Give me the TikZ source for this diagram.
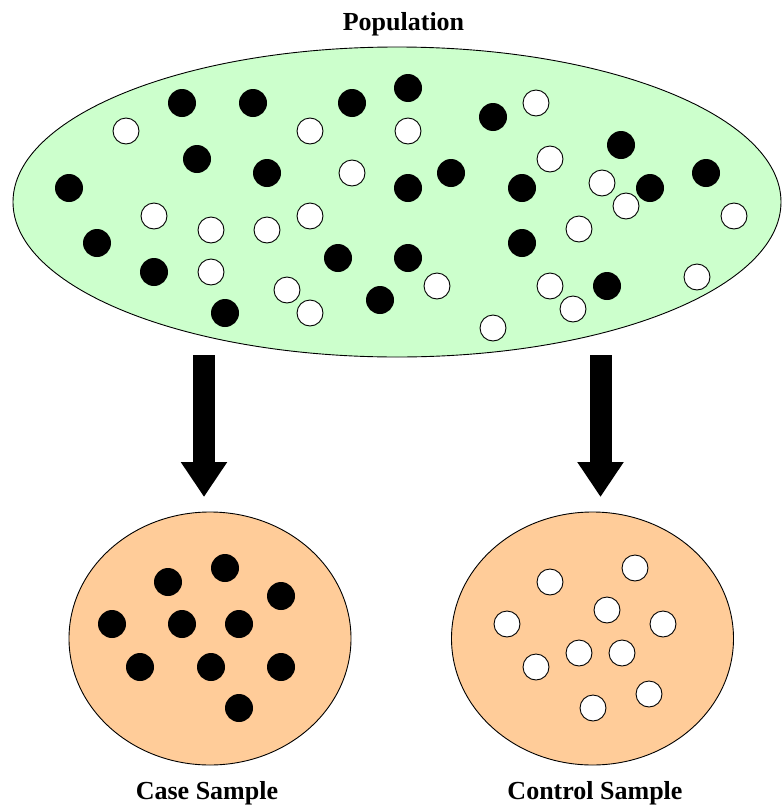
\documentclass[tikz,border=0pt]{standalone}
\usepackage{fontspec}
\setmainfont{Liberation Serif}
\usetikzlibrary{shapes.geometric,arrows.meta}
\definecolor{popgreen}{HTML}{CCFFCC}
\definecolor{samporange}{HTML}{FFCC99}
\begin{document}
\begin{tikzpicture}[x=1pt,y=-1pt,
  region/.style={draw=black,line width=0.9pt,inner sep=0pt,outer sep=0pt},
  popregion/.style={region,ellipse,fill=popgreen,minimum width=768pt,minimum height=310pt},
  sampregion/.style={region,ellipse,fill=samporange,minimum width=282pt,minimum height=253pt},
  casedot/.style={circle,fill=black,inner sep=0pt,minimum size=28pt},
  ctrldot/.style={circle,draw=black,line width=0.9pt,fill=white,inner sep=0pt,minimum size=26pt},
  bigarrow/.style={line width=22pt,-{Triangle[width=44pt,length=35pt]}},
  caption/.style={font=\fontsize{26}{30}\selectfont\bfseries,anchor=base,inner sep=0pt}
]
\useasboundingbox (0,0) rectangle (782,806);

% population and the two samples
\node[popregion] (pop) at (397,202) {};
\node[sampregion] (case) at (210,638.5) {};
\node[sampregion] (ctrl) at (592.5,638.5) {};

% population members: cases (filled) and controls (open)
\foreach \x/\y [count=\i] in {182/103,253/103,352/103,197/159,267/173,69/188,97/243,
    154/272,338/258,225/313,380/300,408/88,493/117,451/173,408/188,522/188,621/145,
    650/188,706/173,522/243,408/258,607/286}
  \node[casedot] (pc\i) at (\x,\y) {};
\foreach \x/\y [count=\i] in {126/131,310/131,352/173,154/216,211/230,267/230,310/216,
    211/272,287/290,310/313,536/103,408/131,550/159,602/183,626/206,734/216,579/229,
    437/286,550/286,573/309,493/328,697/277}
  \node[ctrldot] (pn\i) at (\x,\y) {};

% case sample
\foreach \x/\y [count=\i] in {225/568,168/582,281/596,112/624,182/624,239/624,
    140/667,211/667,281/667,239/708}
  \node[casedot] (cs\i) at (\x,\y) {};

% control sample
\foreach \x/\y [count=\i] in {635/568,550/582,607/610,507/624,663/624,579/653,
    622/653,536/667,649/694,593/708}
  \node[ctrldot] (cn\i) at (\x,\y) {};

% sampling arrows
\coordinate (caseFrom) at (204,355);
\coordinate (caseTo) at (204,497);
\coordinate (ctrlFrom) at (600.5,355);
\coordinate (ctrlTo) at (600.5,497);
\draw[bigarrow] (caseFrom) -- (caseTo);
\draw[bigarrow] (ctrlFrom) -- (ctrlTo);

% labels
\node[caption] (popLabel) at (403.5,30) {Population};
\node[caption] (caseLabel) at (207,799) {Case Sample};
\node[caption] (ctrlLabel) at (595,799) {Control Sample};
\end{tikzpicture}
\end{document}
